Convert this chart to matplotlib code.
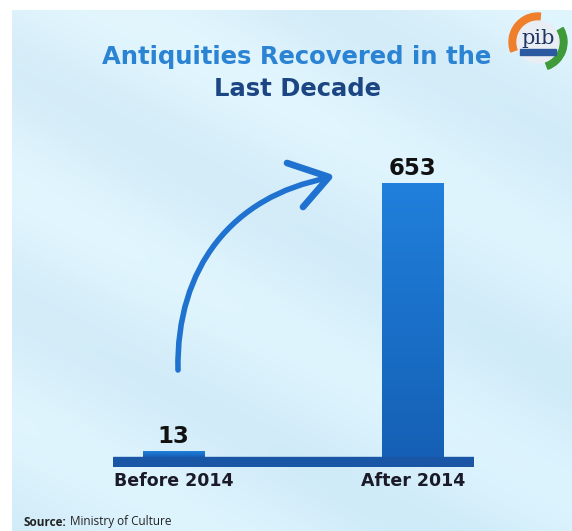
import matplotlib.pyplot as plt
import matplotlib.patches as mpatches
from matplotlib.path import Path
from matplotlib.colors import LinearSegmentedColormap
import numpy as np

# data
categories = ['Before 2014', 'After 2014']
values = [13, 653]
title_line1 = 'Antiquities Recovered in the'
title_line2 = 'Last Decade'
source_label = 'Source:'
source_text = 'Ministry of Culture'

plt.rcParams['font.family'] = ['DejaVu Sans']

W, H = 572, 531
fig = plt.figure(figsize=(W / 100, H / 100), dpi=100)
fig.patch.set_facecolor('white')

# background axes in pixel coords
bg = fig.add_axes([0, 0, 1, 1])
bg.set_xlim(0, W)
bg.set_ylim(H, 0)
bg.axis('off')

# light blue gradient background with diagonal streaks
yy, xx = np.mgrid[0:H, 0:W]
g = (xx * 0.6 + yy) / (W * 0.6 + H)
streak = 0.5 + 0.5 * np.sin((xx * 0.55 - yy) / 38.0)
r = 0.84 + 0.05 * streak - 0.03 * g
gg = 0.93 + 0.035 * streak - 0.01 * g
b = 0.975 + 0.02 * streak
img = np.dstack([np.clip(r, 0, 1), np.clip(gg, 0, 1), np.clip(b, 0, 1)])
bg.imshow(img, extent=[12, W, H, 10], aspect='auto', zorder=0)

# titles
bg.text(297, 57, title_line1, ha='center', va='center', fontsize=17.5,
        fontweight='bold', color='#2b83d3')
bg.text(297, 89, title_line2, ha='center', va='center', fontsize=17.5,
        fontweight='bold', color='#1c4683')

# pib logo (simple)
cx, cy = 538, 42
bg.add_patch(mpatches.Wedge((cx, cy), 29, 160, 275, width=8, color='#ef7f2b', zorder=3))
bg.add_patch(mpatches.Wedge((cx, cy), 29, 330, 70, width=8, color='#3f9a3a', zorder=3))
bg.add_patch(mpatches.Circle((cx, cy), 21, color='#e9eef4', zorder=3))
bg.text(cx, 38, 'pib', ha='center', va='center', fontsize=15, color='#1f3563',
        zorder=4, family='DejaVu Serif')
bg.add_patch(mpatches.Rectangle((520, 49), 36, 6, color='#2c5aa0', zorder=4))

# curved arrow
verts = [(178, 370), (176, 268), (232, 196), (328, 178)]
codes = [Path.MOVETO, Path.CURVE4, Path.CURVE4, Path.CURVE4]
bg.add_patch(mpatches.PathPatch(Path(verts, codes), fill=False, lw=4.0,
                                edgecolor='#1f72cf', capstyle='round', zorder=3))
bg.plot([287, 329, 303], [163, 177, 207], color='#1f72cf', lw=4.8,
        solid_capstyle='round', solid_joinstyle='round', zorder=3)

# source
bg.text(24, 522, source_label, fontsize=8.5, fontweight='bold', color='#222222',
        va='center', family='Open Sans')
bg.text(70, 522, source_text, fontsize=8.5, color='#222222', va='center',
        family='Open Sans')

# bar axes
ax = fig.add_axes([113 / W, (H - 467) / H, 361 / W, 284 / H])
ax.patch.set_alpha(0)
ax.axis('off')

ax.axhspan(-24, 0, color='#1957a6', zorder=2)
bars = ax.bar(range(len(values)), values, width=0.2547, color='#1f74d0', zorder=1)

grad = np.linspace(0, 1, 256).reshape(-1, 1)
cmap = LinearSegmentedColormap.from_list('barg', ['#1560b5', '#2080dc'])
for bar in bars:
    x0, w, h = bar.get_x(), bar.get_width(), bar.get_height()
    im = ax.imshow(grad, extent=[x0, x0 + w, 0, h], origin='lower', cmap=cmap,
                   aspect='auto', zorder=1)
    im.set_clip_path(bar)

for i, v in enumerate(values):
    ax.text(i, v + 8, str(v), ha='center', va='bottom', fontsize=16.5,
            fontweight='bold', color='#111111')

ax.set_xlim(-0.2526, 1.2547)
ax.set_ylim(-24, 653)

for i, c in enumerate(categories):
    ax.text(i, -37, c, ha='center', va='top', fontsize=12.5, fontweight='bold',
            color='#1a1a28')

fig.savefig('out.png', dpi=100)
